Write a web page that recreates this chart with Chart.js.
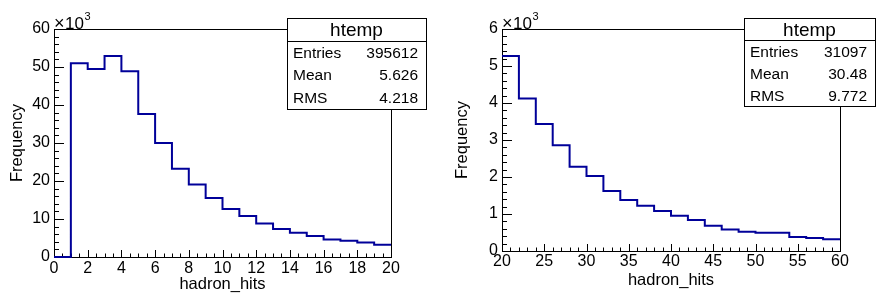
<!DOCTYPE html>
<html>
<head>
<meta charset="utf-8">
<script src="https://cdn.jsdelivr.net/npm/chart.js@4.4.0/dist/chart.umd.min.js"></script>
<style>
  html, body { margin: 0; padding: 0; background: #fff; }
  #wrap { position: relative; width: 891px; height: 306px; overflow: hidden; }
  canvas { position: absolute; top: 0; }
</style>
</head>
<body>
<div id="wrap">
  <canvas id="histLo" width="445" height="306" style="left:0"></canvas>
  <canvas id="histHi" width="446" height="306" style="left:445px"></canvas>
</div>
<script>
// hadron_hits, two ranges (ROOT htemp histograms)
const STAT_LABELS = ['Entries', 'Mean', 'RMS'];

// left pad: 0..20, bins of 1
const loEdges  = [0,1,2,3,4,5,6,7,8,9,10,11,12,13,14,15,16,17,18,19,20];
const loCounts = [0,51000,49500,52900,48900,37600,30000,23200,19100,15500,
                  12600,10800,8800,7400,6400,5500,4600,4300,3800,3200];
const loXTicks = [0,2,4,6,8,10,12,14,16,18,20];
const loYTicks = [0,10000,20000,30000,40000,50000,60000];
const loStats  = ['395612', '5.626', '4.218'];

// right pad: 20..60, bins of 2
const hiEdges  = [20,22,24,26,28,30,32,34,36,38,40,42,44,46,48,50,52,54,56,58,60];
const hiCounts = [5270,4120,3430,2860,2280,2030,1620,1380,1220,1080,
                  950,840,680,580,520,490,490,380,350,320];
const hiXTicks = [20,25,30,35,40,45,50,55,60];
const hiYTicks = [0,1000,2000,3000,4000,5000,6000];
const hiStats  = ['31097', '30.48', '9.772'];

const LINE_COLOR = '#000099';
const FONT = '"Liberation Sans", Arial, Helvetica, sans-serif';
const H = 306;

function histPoints(edges, counts) {
  // stepped 'before' holds each bin's value until the next edge;
  // last edge repeats the last bin so its top gets drawn
  return edges.map((e, i) => ({ x: e, y: counts[Math.min(i, counts.length - 1)] }));
}

function isMajor(v, step) {
  const r = v / step;
  return Math.abs(r - Math.round(r)) < 1e-6;
}

// ROOT style frame, inside ticks, stats box and the x10^3 exponent
const rootFrame = {
  id: 'rootFrame',
  beforeDatasetsDraw(chart, args, o) {
    const { ctx, chartArea: a, scales: { x, y } } = chart;
    ctx.save();
    ctx.strokeStyle = '#000';
    ctx.lineWidth = 1;
    ctx.strokeRect(a.left + 0.5, a.top + 0.5, a.right - a.left, a.bottom - a.top);
    ctx.beginPath();
    const nx = Math.round((x.max - x.min) / o.xMinor);
    for (let i = 0; i <= nx; i++) {
      const v = x.min + i * o.xMinor;
      const px = Math.round(x.getPixelForValue(v)) + 0.5;
      const len = isMajor(v, o.xMajor) ? o.xTick : o.xTick / 2;
      ctx.moveTo(px, a.bottom);
      ctx.lineTo(px, a.bottom - len);
    }
    const ny = Math.round((y.max - y.min) / o.yMinor);
    for (let i = 0; i <= ny; i++) {
      const v = y.min + i * o.yMinor;
      const py = Math.round(y.getPixelForValue(v)) + 0.5;
      const len = isMajor(v, o.yMajor) ? o.yTick : o.yTick / 2;
      ctx.moveTo(a.left, py);
      ctx.lineTo(a.left + len, py);
    }
    ctx.stroke();
    ctx.restore();
  },
  afterDatasetsDraw(chart, args, o) {
    const { ctx, chartArea: a } = chart;
    const b = o.box;
    ctx.save();
    // exponent label
    ctx.fillStyle = '#000';
    ctx.textBaseline = 'alphabetic';
    ctx.textAlign = 'left';
    ctx.font = '18px ' + FONT;
    ctx.fillText('\u00d7', a.left, 29);
    ctx.font = '17px ' + FONT;
    ctx.fillText('10', a.left + 11, 29);
    ctx.font = '11px ' + FONT;
    ctx.fillText('3', a.left + 30.5, 19.5);

    // stats box
    ctx.fillStyle = '#fff';
    ctx.fillRect(b.left, b.top, b.right - b.left, b.bottom - b.top);
    ctx.strokeStyle = '#000';
    ctx.lineWidth = 1;
    ctx.strokeRect(b.left + 0.5, b.top + 0.5, b.right - b.left, b.bottom - b.top);
    const rowH = (b.bottom - b.top) / 4;
    ctx.beginPath();
    ctx.moveTo(b.left, Math.round(b.top + rowH) + 0.5);
    ctx.lineTo(b.right, Math.round(b.top + rowH) + 0.5);
    ctx.stroke();

    ctx.fillStyle = '#000';
    ctx.font = '19px ' + FONT;
    ctx.textAlign = 'center';
    ctx.fillText('htemp', (b.left + b.right) / 2, b.top + rowH / 2 + 0.36 * 19);
    ctx.font = '15.5px ' + FONT;
    STAT_LABELS.forEach((lab, i) => {
      const base = b.top + rowH * (1.5 + i) + 0.36 * 15.5;
      ctx.textAlign = 'left';
      ctx.fillText(lab, b.left + 6, base);
      ctx.textAlign = 'right';
      ctx.fillText(o.stats[i], b.right - 8, base);
    });
    ctx.restore();
  }
};

function makeHist(canvasId, c) {
  const el = document.getElementById(canvasId);
  return new Chart(el, {
    type: 'line',
    data: {
      datasets: [{
        data: histPoints(c.edges, c.counts),
        stepped: 'before',
        borderColor: LINE_COLOR,
        borderWidth: 2,
        borderJoinStyle: 'miter',
        pointRadius: 0,
        fill: false,
        clip: false
      }]
    },
    options: {
      responsive: false, animation: false, devicePixelRatio: 1,
      layout: { padding: { left: 0, top: c.frame.top, right: c.width - c.frame.right, bottom: 0 } },
      plugins: {
        legend: { display: false },
        tooltip: { enabled: false },
        rootFrame: c
      },
      scales: {
        x: {
          type: 'linear', min: c.edges[0], max: c.edges[c.edges.length - 1],
          grid: { display: false, drawTicks: false }, border: { display: false },
          afterBuildTicks: s => { s.ticks = c.xTicks.map(v => ({ value: v })); },
          afterFit: s => { s.height = H - c.frame.bottom; },
          ticks: { autoSkip: false, maxRotation: 0, padding: c.xLabelPad, color: '#000',
                   font: { family: FONT, size: 16, lineHeight: 1 }, callback: v => String(v) },
          title: { display: true, text: 'hadron_hits', color: '#000',
                   font: { family: FONT, size: 16.5, lineHeight: 1 },
                   padding: { top: 0, bottom: c.xTitlePad } }
        },
        y: {
          type: 'linear', min: c.yTicks[0], max: c.yTicks[c.yTicks.length - 1],
          grid: { display: false, drawTicks: false }, border: { display: false },
          afterBuildTicks: s => { s.ticks = c.yTicks.map(v => ({ value: v })); },
          afterFit: s => { s.width = c.frame.left; },
          ticks: { autoSkip: false, padding: 4, color: '#000',
                   font: { family: FONT, size: 16, lineHeight: 1 }, callback: v => String(v / 1000) },
          title: { display: true, text: 'Frequency', color: '#000',
                   font: { family: FONT, size: 16.5, lineHeight: 1 },
                   padding: { top: 9.3, bottom: 0 } }
        }
      }
    },
    plugins: [rootFrame]
  });
}

makeHist('histLo', {
  width: 445,
  edges: loEdges, counts: loCounts, xTicks: loXTicks, yTicks: loYTicks, stats: loStats,
  frame: { left: 54, top: 29, right: 391, bottom: 257 },
  xMinor: 0.5, xMajor: 2, yMinor: 2000, yMajor: 10000, xTick: 7, yTick: 10,
  xLabelPad: 4, xTitlePad: 13.5,
  box: { left: 287, top: 18, right: 426, bottom: 109 }
});

makeHist('histHi', {
  width: 446,
  edges: hiEdges, counts: hiCounts, xTicks: hiXTicks, yTicks: hiYTicks, stats: hiStats,
  frame: { left: 57, top: 29, right: 395, bottom: 251 },
  xMinor: 1, xMajor: 5, yMinor: 200, yMajor: 1000, xTick: 7, yTick: 10,
  xLabelPad: 3, xTitlePad: 17.5,
  box: { left: 299, top: 18, right: 430, bottom: 106 }
});
</script>
</body>
</html>
